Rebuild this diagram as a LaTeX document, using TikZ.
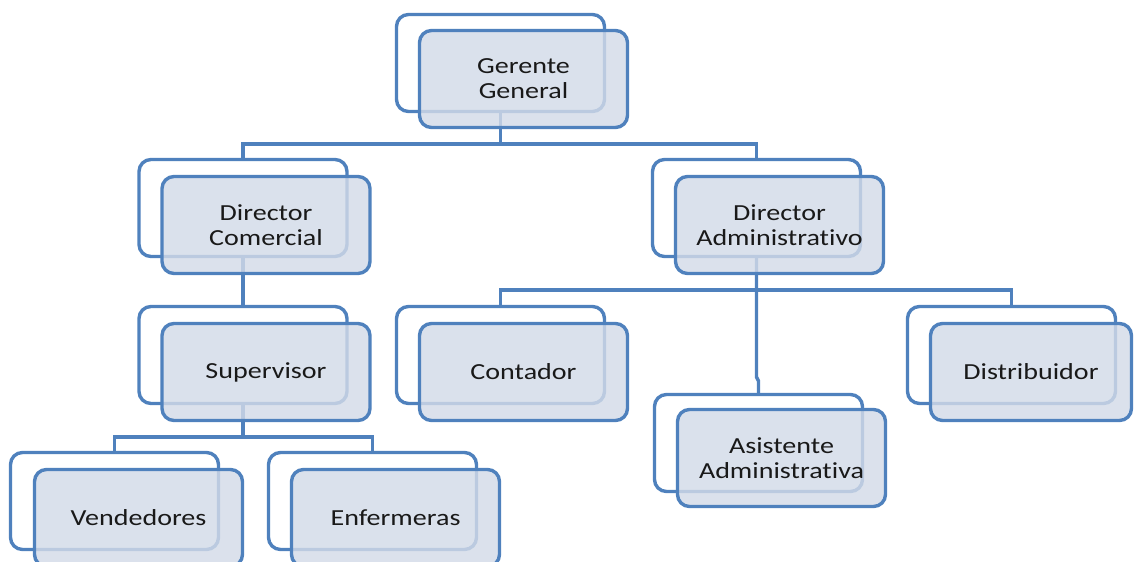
\documentclass[tikz,border=0pt]{standalone}
\usepackage{fontspec}
\setmainfont[FakeStretch=1.22, Ligatures=NoCommon]{Carlito}
\definecolor{lineblue}{RGB}{79,129,189}
\definecolor{boxfill}{RGB}{211,219,232}
\begin{document}
\begin{tikzpicture}[x=1pt,y=-1pt,
  backbox/.style={draw=lineblue, line width=3.4pt, fill=white, rounded corners=12pt,
    minimum width=208pt, minimum height=97pt, anchor=north west, inner sep=0pt, outer sep=0pt},
  frontbox/.style={draw=lineblue, line width=3.4pt, fill=boxfill, fill opacity=0.82, text opacity=1,
    rounded corners=12pt, minimum width=208pt, minimum height=97pt, anchor=north west,
    inner sep=0pt, outer sep=0pt, align=center, font=\fontsize{23}{25}\selectfont, text=black!90},
  conn/.style={draw=lineblue, line width=3.4pt}]
\useasboundingbox (0,0) rectangle (1135,562);
\clip (0,0) rectangle (1135,562);
% back boxes
\node[backbox] (gb)  at (396.5,14.5) {};
\node[backbox] (dcb) at (139,159.5) {};
\node[backbox] (dab) at (652.5,159.5) {};
\node[backbox] (sb)  at (139,306.5) {};
\node[backbox] (cb)  at (396.5,306.5) {};
\node[backbox] (db)  at (907.5,306.5) {};
\node[backbox] (ab)  at (654.5,394.5) {};
\node[backbox] (vb)  at (10.5,452.5) {};
\node[backbox] (eb)  at (268.5,452.5) {};
% bar levels
\coordinate (bar1) at (0,144);
\coordinate (bar2) at (0,290);
\coordinate (bar3) at (0,437);
\coordinate (jog1) at (0,377);
\coordinate (jog2) at (0,381);
% connectors
\draw[conn] (gb.south) -- (gb.south |- bar1) -| (dcb.north);
\draw[conn] (gb.south |- bar1) -| (dab.north);
\draw[conn] (dcb.south) -- (sb.north);
\draw[conn] (dab.south) -- (dab.south |- bar2) -| (cb.north);
\draw[conn] (dab.south |- bar2) -| (db.north);
\draw[conn] (dab.south) -- (dab.south |- jog1) -- (ab.north |- jog2) -- (ab.north);
\draw[conn] (sb.south) -- (sb.south |- bar3) -| (vb.north);
\draw[conn] (sb.south |- bar3) -| (eb.north);
% front boxes
\node[frontbox] (g)  at (419.5,30.5) {Gerente\\General};
\node[frontbox] (dc) at (162,176.5) {Director\\Comercial};
\node[frontbox] (da) at (675.5,176.5) {Director\\Administrativo};
\node[frontbox] (s)  at (162,323.5) {Supervisor};
\node[frontbox] (c)  at (419.5,323.5) {Contador};
\node[frontbox, minimum width=201pt] (d) at (930.5,323.5) {Distribuidor};
\node[frontbox] (a)  at (677.5,409.5) {Asistente\\Administrativa};
\node[frontbox] (v)  at (34.5,469.5) {Vendedores};
\node[frontbox] (e)  at (291.5,469.5) {Enfermeras};
\end{tikzpicture}
\end{document}
